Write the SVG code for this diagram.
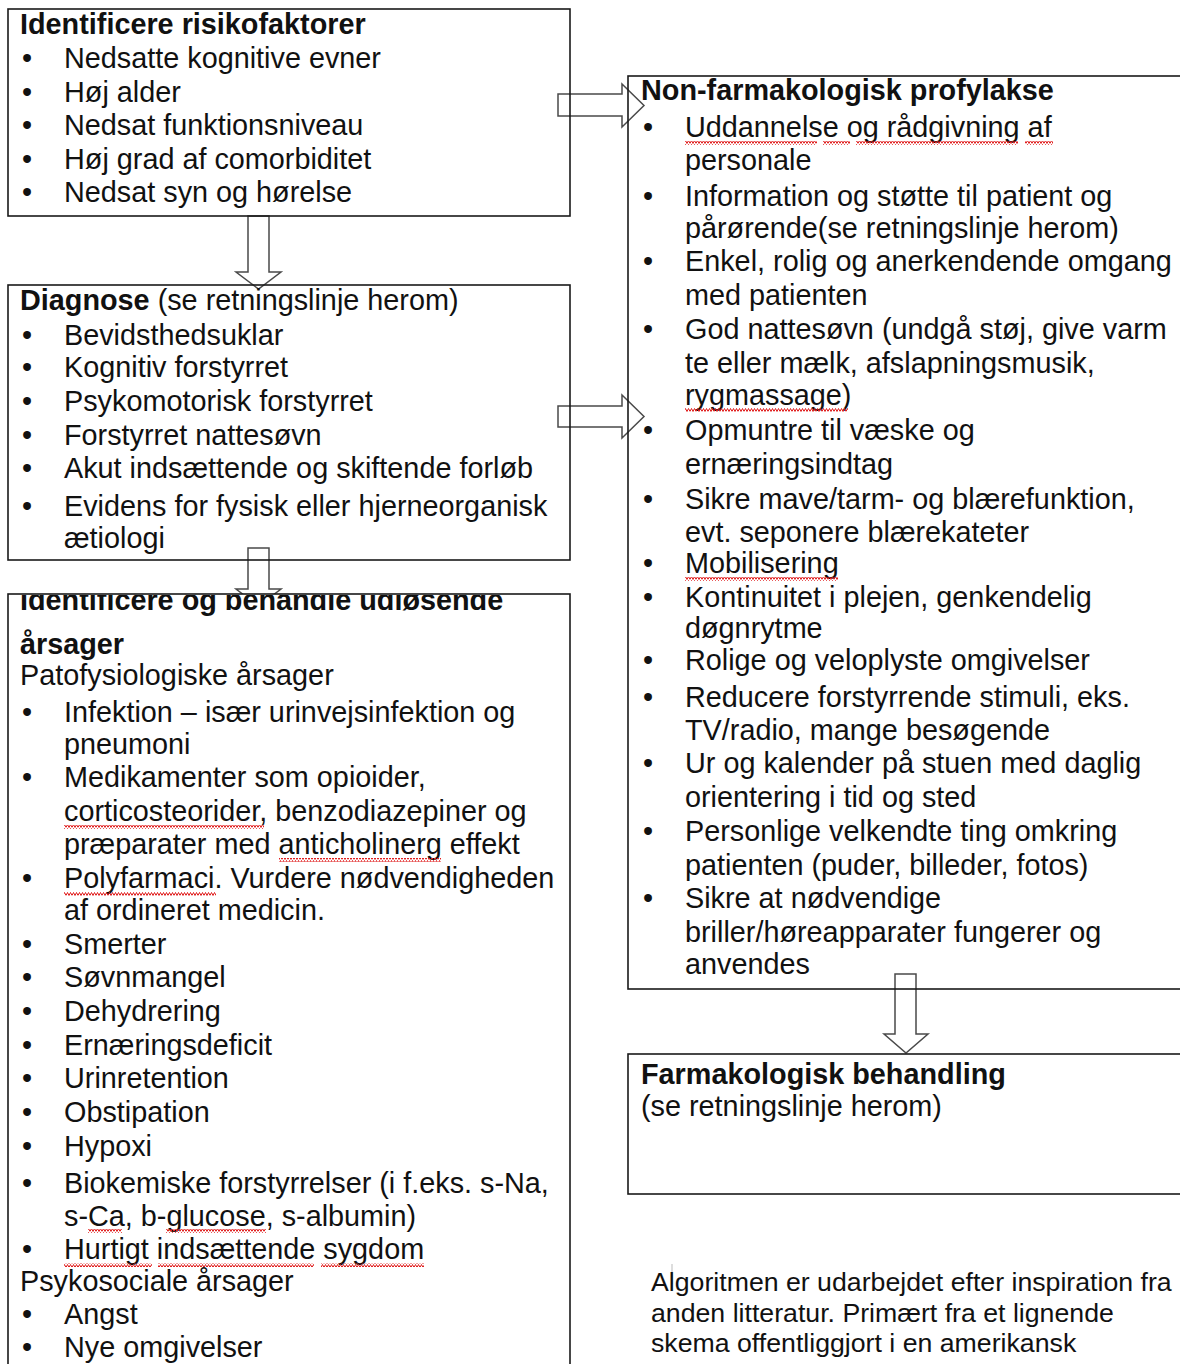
<svg xmlns="http://www.w3.org/2000/svg" width="1180" height="1364" viewBox="0 0 1180 1364">
<style>
text{font-family:"Liberation Sans",Arial,sans-serif;font-size:28.8px;fill:#111}
.b{font-weight:bold}
.fn{font-size:26.7px}
.box{fill:none;stroke:#1a1a1a;stroke-width:1.6}
.boxw{fill:#fff;stroke:#1a1a1a;stroke-width:1.6}
.arr{fill:#fff;stroke:#4a4a4a;stroke-width:1.5;stroke-linejoin:miter}
.sq{fill:url(#squig)}
</style>
<defs>
<pattern id="squig" patternUnits="userSpaceOnUse" width="6" height="4">
<path d="M0,3.5 L1.5,0.5 L3,3.5 L4.5,0.5 L6,3.5" fill="none" stroke="#e02020" stroke-width="1"/>
</pattern>
<clipPath id="clip3"><rect x="8" y="595" width="562" height="769"/></clipPath>
</defs>

<g id="connectors">
<path class="arr" d="M248,216 H269 V272 H281 L258.5,289 L236,272 H248 Z"/>
<path class="arr" d="M248,548 H269 V589 H281 L258.5,606 L236,589 H248 Z"/>
<path class="arr" d="M558,94 H622 V84 L644,105.5 L622,127 V116 H558 Z"/>
<path class="arr" d="M558,406 H622 V395 L644,416.5 L622,438 V427 H558 Z"/>
<path class="arr" d="M895,974 H916 V1034 H928 L906,1053 L884,1034 H895 Z"/>
</g>

<g id="risikofaktorer">
<rect class="box" x="8" y="9" width="562" height="207"/>
<text class="b" x="20" y="34">Identificere risikofaktorer</text>
<text x="22" y="68">•</text><text x="64" y="68">Nedsatte kognitive evner</text>
<text x="22" y="102">•</text><text x="64" y="102">Høj alder</text>
<text x="22" y="135">•</text><text x="64" y="135">Nedsat funktionsniveau</text>
<text x="22" y="169">•</text><text x="64" y="169">Høj grad af comorbiditet</text>
<text x="22" y="202">•</text><text x="64" y="202">Nedsat syn og hørelse</text>
</g>

<g id="diagnose">
<rect class="box" x="8" y="285" width="562" height="275"/>
<text x="20" y="310"><tspan class="b">Diagnose</tspan> (se retningslinje herom)</text>
<text x="22" y="345">•</text><text x="64" y="345">Bevidsthedsuklar</text>
<text x="22" y="377">•</text><text x="64" y="377">Kognitiv forstyrret</text>
<text x="22" y="411">•</text><text x="64" y="411">Psykomotorisk forstyrret</text>
<text x="22" y="445">•</text><text x="64" y="445">Forstyrret nattesøvn</text>
<text x="22" y="478">•</text><text x="64" y="478">Akut indsættende og skiftende forløb</text>
<text x="22" y="516">•</text><text x="64" y="516">Evidens for fysisk eller hjerneorganisk</text>
<text x="64" y="548">ætiologi</text>
</g>

<g id="udloesende">
<rect class="boxw" x="8" y="594" width="562" height="780"/>
<text class="b" x="20" y="610" clip-path="url(#clip3)">Identificere og behandle udløsende</text>
<text class="b" x="20" y="654">årsager</text>
<text x="20" y="685">Patofysiologiske årsager</text>
<text x="22" y="722">•</text><text x="64" y="722">Infektion – især urinvejsinfektion og</text>
<text x="64" y="754">pneumoni</text>
<text x="22" y="787">•</text><text x="64" y="787">Medikamenter som opioider,</text>
<text x="64" y="821">corticosteorider, benzodiazepiner og</text>
<rect class="sq" x="64" y="825" width="200" height="4"/>
<text x="64" y="854">præparater med anticholinerg effekt</text>
<rect class="sq" x="279" y="858" width="162" height="4"/>
<text x="22" y="888">•</text><text x="64" y="888">Polyfarmaci. Vurdere nødvendigheden</text>
<rect class="sq" x="64" y="892" width="152" height="4"/>
<text x="64" y="920">af ordineret medicin.</text>
<text x="22" y="954">•</text><text x="64" y="954">Smerter</text>
<text x="22" y="987">•</text><text x="64" y="987">Søvnmangel</text>
<text x="22" y="1021">•</text><text x="64" y="1021">Dehydrering</text>
<text x="22" y="1055">•</text><text x="64" y="1055">Ernæringsdeficit</text>
<text x="22" y="1088">•</text><text x="64" y="1088">Urinretention</text>
<text x="22" y="1122">•</text><text x="64" y="1122">Obstipation</text>
<text x="22" y="1156">•</text><text x="64" y="1156">Hypoxi</text>
<text x="22" y="1193">•</text><text x="64" y="1193">Biokemiske forstyrrelser (i f.eks. s-Na,</text>
<text x="64" y="1226">s-Ca, b-glucose, s-albumin)</text>
<rect class="sq" x="88" y="1229" width="34" height="4"/>
<rect class="sq" x="166" y="1229" width="100" height="4"/>
<text x="22" y="1259">•</text><text x="64" y="1259">Hurtigt indsættende sygdom</text>
<rect class="sq" x="64" y="1263" width="88" height="4"/>
<rect class="sq" x="158" y="1263" width="156" height="4"/>
<rect class="sq" x="321" y="1263" width="103" height="4"/>
<text x="20" y="1291">Psykosociale årsager</text>
<text x="22" y="1324">•</text><text x="64" y="1324">Angst</text>
<text x="22" y="1357">•</text><text x="64" y="1357">Nye omgivelser</text>
</g>

<g id="profylakse">
<rect class="box" x="628" y="76" width="560" height="913"/>
<text class="b" x="641" y="100">Non-farmakologisk profylakse</text>
<text x="643" y="137">•</text><text x="685" y="137">Uddannelse og rådgivning af</text>
<rect class="sq" x="685" y="141" width="132" height="4"/>
<rect class="sq" x="823" y="141" width="27" height="4"/>
<rect class="sq" x="856" y="141" width="162" height="4"/>
<rect class="sq" x="1025" y="141" width="28" height="4"/>
<text x="685" y="170">personale</text>
<text x="643" y="206">•</text><text x="685" y="206">Information og støtte til patient og</text>
<text x="685" y="238">pårørende(se retningslinje herom)</text>
<text x="643" y="271">•</text><text x="685" y="271">Enkel, rolig og anerkendende omgang</text>
<text x="685" y="305">med patienten</text>
<text x="643" y="339">•</text><text x="685" y="339">God nattesøvn (undgå støj, give varm</text>
<text x="685" y="373">te eller mælk, afslapningsmusik,</text>
<text x="685" y="405">rygmassage)</text>
<rect class="sq" x="685" y="408" width="163" height="4"/>
<text x="643" y="440">•</text><text x="685" y="440">Opmuntre til væske og</text>
<text x="685" y="474">ernæringsindtag</text>
<text x="643" y="509">•</text><text x="685" y="509">Sikre mave/tarm- og blærefunktion,</text>
<text x="685" y="542">evt. seponere blærekateter</text>
<text x="643" y="573">•</text><text x="685" y="573">Mobilisering</text>
<rect class="sq" x="685" y="577" width="153" height="4"/>
<text x="643" y="607">•</text><text x="685" y="607">Kontinuitet i plejen, genkendelig</text>
<text x="685" y="638">døgnrytme</text>
<text x="643" y="670">•</text><text x="685" y="670">Rolige og veloplyste omgivelser</text>
<text x="643" y="707">•</text><text x="685" y="707">Reducere forstyrrende stimuli, eks.</text>
<text x="685" y="740">TV/radio, mange besøgende</text>
<text x="643" y="773">•</text><text x="685" y="773">Ur og kalender på stuen med daglig</text>
<text x="685" y="807">orientering i tid og sted</text>
<text x="643" y="841">•</text><text x="685" y="841">Personlige velkendte ting omkring</text>
<text x="685" y="875">patienten (puder, billeder, fotos)</text>
<text x="643" y="908">•</text><text x="685" y="908">Sikre at nødvendige</text>
<text x="685" y="942">briller/høreapparater fungerer og</text>
<text x="685" y="974">anvendes</text>
</g>

<g id="farmakologisk">
<rect class="box" x="628" y="1054" width="560" height="140"/>
<text class="b" x="641" y="1084">Farmakologisk behandling</text>
<text x="641" y="1116">(se retningslinje herom)</text>
</g>

<g id="note">
<line x1="672" y1="1264" x2="672" y2="1284" stroke="#bbb" stroke-width="1"/>
<text class="fn" x="651" y="1291">Algoritmen er udarbejdet efter inspiration fra</text>
<text class="fn" x="651" y="1322">anden litteratur. Primært fra et lignende</text>
<text class="fn" x="651" y="1352">skema offentliggjort i en amerikansk</text>
</g>
</svg>
